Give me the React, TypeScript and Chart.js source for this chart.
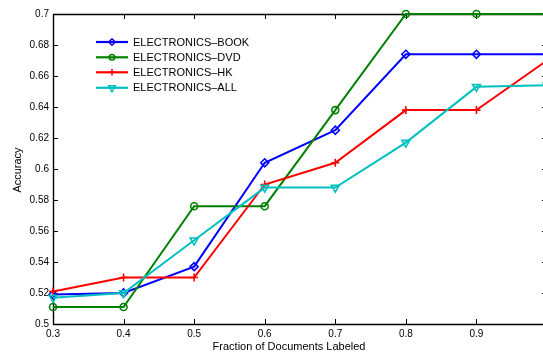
import { useEffect, useRef } from "react";
import { Chart, registerables } from "chart.js";
import { drawPoint } from "chart.js/helpers";

Chart.register(...registerables);

// Fraction of documents labeled (x) and accuracy per domain pairing (y)
const fractions = [0.3, 0.4, 0.5, 0.6, 0.7, 0.8, 0.9, 1.0];
const bookAcc = [0.519, 0.52, 0.537, 0.604, 0.625, 0.674, 0.674, 0.674];
const dvdAcc = [0.511, 0.511, 0.576, 0.576, 0.638, 0.7, 0.7, 0.7];
const hkAcc = [0.521, 0.53, 0.53, 0.59, 0.604, 0.638, 0.638, 0.67];
const allAcc = [0.517, 0.52, 0.554, 0.588, 0.588, 0.617, 0.653, 0.654];

const seriesLabels = ["ELECTRONICS–BOOK", "ELECTRONICS–DVD", "ELECTRONICS–HK", "ELECTRONICS–ALL"];
const seriesColors = ["#0000ff", "#008000", "#ff0000", "#00bfbf"];
const seriesMarkers = ["rectRot", "circle", "cross", "triangle"];
const markerRadius = [4, 3.5, 4, 4.5];
const legendMarkerRadius = [3.2, 2.8, 3.2, 4];
const markerRotation = [0, 0, 0, 180];

const xTicks = [0.3, 0.4, 0.5, 0.6, 0.7, 0.8, 0.9, 1.0];
const xTickLabels = ["0.3", "0.4", "0.5", "0.6", "0.7", "0.8", "0.9", ""];
const yTicks = [0.5, 0.52, 0.54, 0.56, 0.58, 0.6, 0.62, 0.64, 0.66, 0.68, 0.7];

const xTitle = "Fraction of Documents Labeled";
const yTitle = "Accuracy";

const FONT = "'Liberation Sans', Arial, Helvetica, sans-serif";

const seriesValues = [bookAcc, dvdAcc, hkAcc, allAcc];

// Box frame with inward ticks, axis titles and an in-plot legend
const framePlugin = {
  id: "frame",
  beforeDatasetsDraw(chart: any) {
    const { ctx, chartArea } = chart;
    const { left, right, top, bottom } = chartArea;
    const xs = chart.scales.x;
    const ys = chart.scales.y;
    const tl = 5;
    ctx.save();
    ctx.strokeStyle = "#000";
    ctx.lineWidth = 1.4;
    ctx.beginPath();
    ctx.rect(left + 0.5, top + 0.5, right - left, bottom - top);
    ctx.stroke();
    ctx.lineWidth = 1;
    ctx.beginPath();
    for (const v of xTicks) {
      const px = Math.round(xs.getPixelForValue(v)) + 0.5;
      ctx.moveTo(px, bottom);
      ctx.lineTo(px, bottom - tl);
      ctx.moveTo(px, top);
      ctx.lineTo(px, top + tl);
    }
    for (const v of yTicks) {
      const py = Math.round(ys.getPixelForValue(v)) + 0.5;
      ctx.moveTo(left, py);
      ctx.lineTo(left + tl, py);
      ctx.moveTo(right, py);
      ctx.lineTo(right - tl, py);
    }
    ctx.stroke();
    ctx.restore();
  },
  afterDraw(chart: any) {
    const { ctx } = chart;
    ctx.save();
    ctx.fillStyle = "#000";
    ctx.font = `11px ${FONT}`;
    ctx.textAlign = "center";
    ctx.textBaseline = "middle";
    ctx.fillText(xTitle, 289, 347);
    ctx.translate(18, 170);
    ctx.rotate(-Math.PI / 2);
    ctx.fillText(yTitle, 0, 0);
    ctx.restore();

    // legend
    ctx.save();
    const rowY = [42, 57.3, 72.3, 87.8];
    chart.data.datasets.forEach((ds: any, i: number) => {
      const y = rowY[i];
      ctx.strokeStyle = ds.borderColor;
      ctx.lineWidth = 2.2;
      ctx.beginPath();
      ctx.moveTo(96, y);
      ctx.lineTo(128, y);
      ctx.stroke();
      ctx.fillStyle = "rgba(0,0,0,0)";
      ctx.strokeStyle = ds.borderColor;
      ctx.lineWidth = 1.5;
      drawPoint(ctx, {
        pointStyle: ds.pointStyle,
        rotation: ds.pointRotation,
        radius: legendMarkerRadius[i],
        borderWidth: 1.5,
      } as any, 112, y);
      ctx.fillStyle = "#000";
      ctx.font = `11px ${FONT}`;
      ctx.textAlign = "left";
      ctx.textBaseline = "middle";
      ctx.fillText(ds.label, 133, y + 0.5);
    });
    ctx.restore();
  },
};

export default function App() {
  const ref = useRef<HTMLCanvasElement>(null);

  useEffect(() => {
    if (!ref.current) return;
    const chart = new Chart(ref.current, {
      type: "line",
      data: {
        datasets: seriesValues.map((vals, i) => ({
          label: seriesLabels[i],
          data: fractions.map((x, j) => ({ x, y: vals[j] })),
          borderColor: seriesColors[i],
          backgroundColor: "rgba(0,0,0,0)",
          borderWidth: 2,
          pointStyle: seriesMarkers[i] as any,
          pointRadius: markerRadius[i],
          pointRotation: markerRotation[i],
          pointBorderWidth: 1.6,
          pointBackgroundColor: "rgba(0,0,0,0)",
          pointBorderColor: seriesColors[i],
          tension: 0,
          clip: false as any,
          order: 3 - i,
        })),
      },
      options: {
        responsive: false,
        animation: false,
        events: [],
        layout: { padding: { top: 14, right: 13, left: 0, bottom: 0 } },
        plugins: {
          legend: { display: false },
          tooltip: { enabled: false },
        },
        scales: {
          x: {
            type: "linear",
            min: 0.3,
            max: 1.0,
            afterBuildTicks: (s: any) => {
              s.ticks = xTicks.map((v) => ({ value: v }));
            },
            afterFit: (s: any) => {
              s.height = 32;
            },
            grid: { display: false, drawTicks: false },
            border: { display: false },
            ticks: {
              padding: 4,
              autoSkip: false,
              maxRotation: 0,
              color: "#000",
              font: { family: FONT, size: 10 },
              callback: (_v: any, idx: number) => xTickLabels[idx],
            },
          },
          y: {
            type: "linear",
            min: 0.5,
            max: 0.7,
            afterBuildTicks: (s: any) => {
              s.ticks = yTicks.map((v) => ({ value: v }));
            },
            afterFit: (s: any) => {
              s.width = 53;
            },
            grid: { display: false, drawTicks: false },
            border: { display: false },
            ticks: {
              padding: 4,
              autoSkip: false,
              color: "#000",
              font: { family: FONT, size: 10 },
              callback: (_v: any, idx: number) => String(yTicks[idx]),
            },
          },
        },
      },
      plugins: [framePlugin],
    });
    return () => chart.destroy();
  }, []);

  return (
    <div
      style={{
        position: "fixed",
        left: 0,
        top: 0,
        width: 543,
        height: 356,
        overflow: "hidden",
        background: "#fff",
      }}
    >
      <canvas ref={ref} width={560} height={356} style={{ display: "block" }} />
    </div>
  );
}
